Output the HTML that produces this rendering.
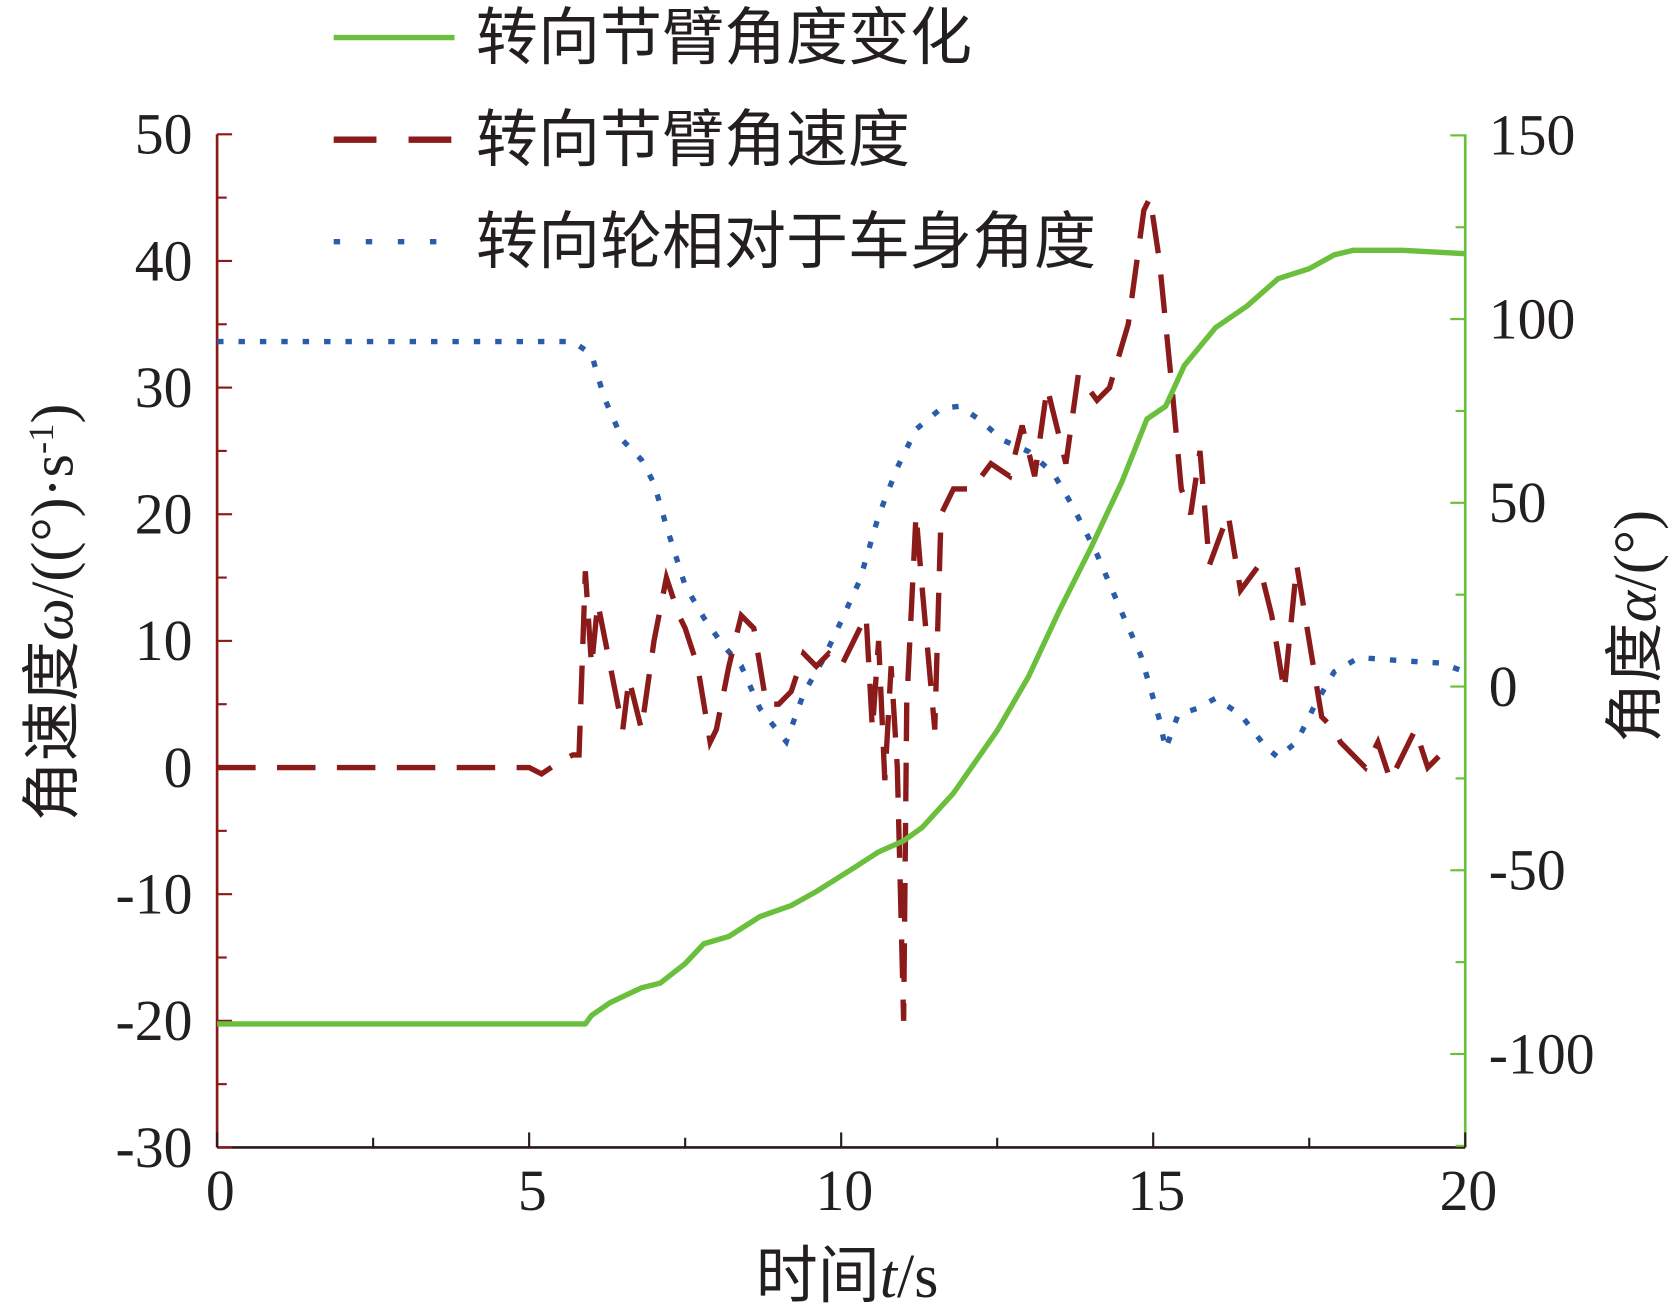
<!DOCTYPE html>
<html><head><meta charset="utf-8"><style>
html,body{margin:0;padding:0;background:#fff;}
svg{display:block;}
text{font-family:"Liberation Serif","Noto Serif CJK SC",serif;fill:#231f20;}
.cjk{font-family:"Liberation Serif","Noto Sans CJK SC",sans-serif;}
</style></head><body>
<svg id="chart" width="1677" height="1314" viewBox="0 0 1568 1223" preserveAspectRatio="none" xmlns="http://www.w3.org/2000/svg">
<g id="axes"></g>
<g id="series"></g>
<g id="legend">
  <line x1="312" y1="35" x2="425" y2="35" stroke="#6abf3c" stroke-width="5"/>
  <text x="445" y="55" font-size="58" class="cjk">转向节臂角度变化</text>
  <line x1="312" y1="130" x2="425" y2="130" stroke="#8b1a1a" stroke-width="6" stroke-dasharray="40,30"/>
  <text x="445" y="150" font-size="58" class="cjk">转向节臂角速度</text>
  <line x1="312" y1="225" x2="425" y2="225" stroke="#2a5caa" stroke-width="5" stroke-dasharray="6,24"/>
  <text x="445" y="245" font-size="58" class="cjk">转向轮相对于车身角度</text>
</g>
<text x="792" y="1207" font-size="58" text-anchor="middle" class="cjk">时间<tspan font-style="italic">t</tspan>/s</text>
<text transform="translate(68,570) rotate(-90)" font-size="56" text-anchor="middle" class="cjk">角速度<tspan font-style="italic">ω</tspan>/((°)·s<tspan baseline-shift="super" font-size="34">-1</tspan>)</text>
<text transform="translate(1548,583) rotate(-90)" font-size="56" text-anchor="middle" class="cjk">角度<tspan font-style="italic">α</tspan>/(°)</text>
</svg>
<script>
const xTicks=[0,5,10,15,20];
const leftTicks=[50,40,30,20,10,0,-10,-20,-30];
const rightTicks=[150,100,50,0,-50,-100];
const angleT=[0,5.9,6.0,6.3,6.8,7.1,7.5,7.8,8.2,8.7,9.2,9.6,10.2,10.6,11.0,11.3,11.8,12.5,13,13.5,14,14.5,14.9,15.2,15.5,16,16.5,17,17.5,17.9,18.2,19,20];
const angleV=[-91.8,-91.8,-89.5,-86,-82,-80.7,-75.4,-70,-68,-62.6,-59.6,-55.8,-49.4,-45,-42,-38.3,-29,-12,2.6,20.8,37.7,55.8,72.8,76.3,87.4,97.7,103.5,111,113.7,117.5,118.7,118.7,117.8];
const wheelT=[0,5.7,6,6.2,6.5,6.8,7,7.2,7.5,7.8,8.1,8.4,8.7,9.12,9.4,9.7,10,10.3,10.6,10.9,11.2,11.6,11.9,12.2,12.6,13,13.4,13.7,14.1,14.5,14.8,15.1,15.2,15.4,15.7,16,16.4,16.8,17.0,17.3,17.6,17.9,18.3,19,19.6,20];
const wheelV=[93.9,93.9,90.4,78.7,67,61.7,55.3,43.6,27.5,18.7,11.4,5.6,-6,-15,-1.8,7,17.8,29,46.5,59.6,70,75.7,76.3,72.8,67,64,58,49.4,36,20,8.5,-9,-17,-7.6,-6,-3.2,-7.6,-16.4,-19.3,-15,-4.7,4,7.9,7,6.4,4];
const rateT=[0,5,5.2,5.5,5.7,5.8,5.9,6.0,6.1,6.3,6.5,6.6,6.8,7.0,7.2,7.4,7.5,7.7,7.9,8.0,8.2,8.4,8.6,8.8,9.0,9.2,9.4,9.6,9.8,10.0,10.2,10.4,10.5,10.6,10.7,10.8,10.9,11.0,11.05,11.2,11.3,11.5,11.6,11.8,12.1,12.4,12.7,12.9,13.1,13.3,13.6,13.8,14.1,14.3,14.6,14.85,14.95,15.1,15.3,15.45,15.6,15.75,15.9,16.2,16.4,16.7,16.9,17.1,17.3,17.5,17.7,17.9,18.0,18.2,18.4,18.6,18.8,19.0,19.2,19.4,19.6];
const rateV=[0,0,-0.5,0.5,1,1,15.5,8,13,8,3,7,3,10,15,12,11,8,2,3,8,12,11,5,5,6,9,8,9,8,10,12,3,10,-1,8,0,-20,5,20,14,3,20,22,22,24,23,27,23,30,24,31,29,30,35,44,45,40,30,22,20,25,16,20,14,16,12,6,16,10,4,3,2,1,0,2,-1,1,3,0,1];
const X0=203,X1=1370,YT=125,YB=1068;
const xs=t=>X0+t*(X1-X0)/20;
const yl=v=>YT+(50-v)*(YB-YT)/80;
const yr=v=>639-v*3.42;
const NS='http://www.w3.org/2000/svg';
function mk(tag,attrs,parent){const e=document.createElementNS(NS,tag);for(const k in attrs)e.setAttribute(k,attrs[k]);parent.appendChild(e);return e;}
const ax=document.getElementById('axes');
let e;
e=mk('line',{x1:X0,y1:YT,x2:X0,y2:YB,stroke:'#8b1a1a','stroke-width':2.5},ax);


e=mk('line',{x1:X1,y1:YT,x2:X1,y2:YB,stroke:'#6abf3c','stroke-width':2.5},ax);


e=mk('line',{x1:X0,y1:YB,x2:X1,y2:YB,stroke:'#2b1a1a','stroke-width':2.5},ax);


for(let v=-30;v<=50;v+=5){e=mk('line',{x1:X0,y1:yl(v),x2:X0+(v%10===0?14:9),y2:yl(v),stroke:'#8b1a1a','stroke-width':2},ax);

}
for(let v=-125;v<=150;v+=25){e=mk('line',{x1:X1,y1:yr(v),x2:X1-(v%50===0?14:9),y2:yr(v),stroke:'#6abf3c','stroke-width':2},ax);

}
for(let t=0;t<=20;t+=2.5){e=mk('line',{x1:xs(t),y1:YB,x2:xs(t),y2:YB-(t%5===0?14:9),stroke:'#2b1a1a','stroke-width':2},ax);

}
xTicks.forEach(t=>{e=mk('text',{x:xs(t)+3,y:1126,'font-size':54,'text-anchor':'middle'},ax);e.textContent=t;

});
leftTicks.forEach(v=>{e=mk('text',{x:180,y:yl(v)+18,'font-size':54,'text-anchor':'end'},ax);e.textContent=v;

});
rightTicks.forEach(v=>{e=mk('text',{x:1392,y:yr(v)+18,'font-size':54},ax);e.textContent=v;

});
const sg=document.getElementById('series');
function path(T,V,f){return T.map((t,i)=>(i?'L':'M')+xs(t).toFixed(1)+','+f(V[i]).toFixed(1)).join('');}
e=mk('path',{d:path(wheelT,wheelV,yr),fill:'none',stroke:'#2a5caa','stroke-width':5,'stroke-dasharray':'6,14'},sg);


e=mk('path',{d:path(rateT,rateV,yl),fill:'none',stroke:'#8b1a1a','stroke-width':5,'stroke-dasharray':'36,20'},sg);


e=mk('path',{d:path(angleT,angleV,yr),fill:'none',stroke:'#6abf3c','stroke-width':5,'stroke-linejoin':'round'},sg);


</script>
</body></html>
